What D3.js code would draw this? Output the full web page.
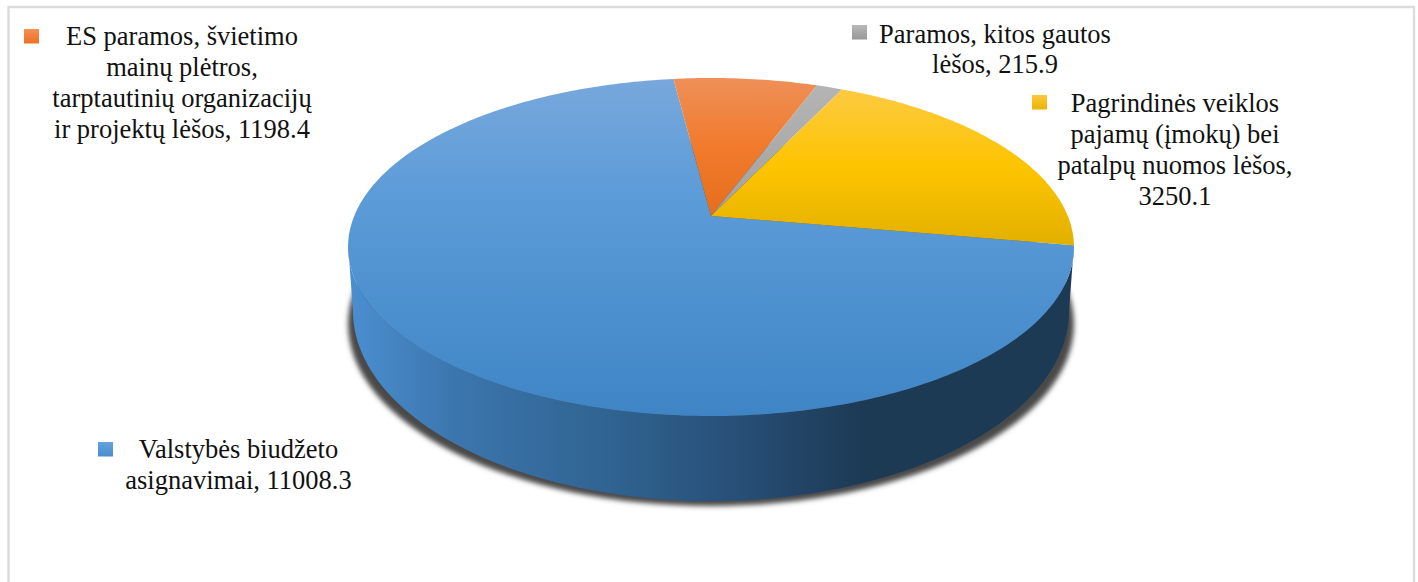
<!DOCTYPE html>
<html><head><meta charset="utf-8">
<script src="https://cdn.jsdelivr.net/npm/d3@7/dist/d3.min.js"></script>
<style>html,body{margin:0;padding:0;background:#fff;overflow:hidden}svg{display:block}
text{font-family:"Liberation Serif","Times New Roman",serif;font-size:26.5px;fill:#111}</style>
</head><body><svg id="c" width="1418" height="582"></svg>
<script>
const categories = ["Valstybės biudžeto asignavimai","ES paramos, švietimo mainų plėtros, tarptautinių organizacijų ir projektų lėšos","Paramos, kitos gautos lėšos","Pagrindinės veiklos pajamų (įmokų) bei patalpų nuomos lėšos"];
const values = [11008.3,1198.4,215.9,3250.1];
const labelLines = [["Valstybės biudžeto","asignavimai, 11008.3"],["ES paramos, švietimo","mainų plėtros,","tarptautinių organizacijų","ir projektų lėšos, 1198.4"],["Paramos, kitos gautos","lėšos, 215.9"],["Pagrindinės veiklos","pajamų (įmokų) bei","patalpų nuomos lėšos,","3250.1"]];
const topStops = [[["0","#78a8dc"],["0.36","#5b9bd8"],["1","#3f85c5"]],[["0","#ee9058"],["0.5","#f17a2c"],["1","#e56e1e"]],[["0","#b4b4b4"],["1","#a2a2a2"]],[["0","#fdca42"],["0.5","#fdc400"],["1","#e2b000"]]];
const keyStops = [["#64a2de","#4a8ccd"],["#f49058","#ee7020"],["#b8b8b8","#989898"],["#fdc940","#e9b400"]];
const keyPos = [[98,442],[24,29],[852,25],[1032,95]];
const labelPos = [[238.5,458,31],[182,45,31],[995,43,30],[1175,112,31]];
const gradSpan = [[78,416],[78,216],[85,216],[89,245]];

const svg = d3.select("#c"), defs = svg.append("defs");
// Perspective projection of the unit disc on the screen
const cx=711, K=356.8, A=123.7, B=216, C=-0.1834;
function project(t){const u=Math.sin(t),v=-Math.cos(t),w=1+C*v;return [cx+K*u/w,(A*v+B)/w];}
const bottomRim=t=>[cx+358*Math.sin(t),311-190*Math.cos(t)];
const rad=d=>d*Math.PI/180;
const line=d3.line();
const sweep=(a,b,n)=>d3.range(n+1).map(i=>a+(b-a)*i/n);

const blur=defs.append("filter").attr("id","sh").attr("x","-5%").attr("y","-5%").attr("width","110%").attr("height","110%");
blur.append("feGaussianBlur").attr("stdDeviation",2.6);

const sideG=defs.append("linearGradient").attr("id","side").attr("gradientUnits","userSpaceOnUse").attr("x1",353).attr("x2",1069).attr("y1",0).attr("y2",0);
[[0,"#4a8ecf"],[0.14,"#3c76ae"],[0.35,"#306492"],[0.52,"#28517a"],[0.71,"#1d3a55"],[1,"#1d3a55"]].forEach(s=>sideG.append("stop").attr("offset",s[0]).attr("stop-color",s[1]));

// frame
svg.append("path").attr("d","M8.5,582V7H1414V582").attr("fill","none").attr("stroke","#dcdcdc").attr("stroke-width",2.4);

// shadow
svg.append("ellipse").attr("cx",cx).attr("cy",324).attr("rx",363).attr("ry",182).attr("fill","#484848").attr("filter","url(#sh)");
// wall
const wall=[...sweep(rad(100),rad(260),80).map(project),...sweep(rad(270),rad(90),100).map(bottomRim)];
svg.append("path").attr("d",line(wall)+"Z").attr("fill","url(#side)");

// top slices
const pie=d3.pie().sort(null).value(d=>d).startAngle(rad(100)).endAngle(rad(460));
const arcs=pie(values);
arcs.forEach((a,i)=>{
  const g=defs.append("linearGradient").attr("id","t"+i).attr("gradientUnits","userSpaceOnUse").attr("x1",0).attr("x2",0).attr("y1",gradSpan[i][0]).attr("y2",gradSpan[i][1]);
  topStops[i].forEach(s=>g.append("stop").attr("offset",s[0]).attr("stop-color",s[1]));
});
svg.append("g").selectAll("path").data(arcs).join("path")
  .attr("d",a=>{
    const n=Math.max(4,Math.ceil((a.endAngle-a.startAngle)*60));
    return line([[cx,B],...sweep(a.startAngle,a.endAngle,n).map(project)])+"Z";
  })
  .attr("fill",(a,i)=>`url(#t${i})`);

// legend keys and labels
arcs.forEach((a,i)=>{
  const g=defs.append("linearGradient").attr("id","k"+i).attr("x1",0).attr("x2",0).attr("y1",0).attr("y2",1);
  g.append("stop").attr("offset",0).attr("stop-color",keyStops[i][0]);
  g.append("stop").attr("offset",1).attr("stop-color",keyStops[i][1]);
  svg.append("rect").attr("x",keyPos[i][0]).attr("y",keyPos[i][1]).attr("width",15).attr("height",14.5).attr("fill",`url(#k${i})`);
  const t=svg.append("text").attr("text-anchor","middle");
  labelLines[i].forEach((l,j)=>t.append("tspan").attr("x",labelPos[i][0]).attr("y",labelPos[i][1]+j*labelPos[i][2]).text(l));
});
</script></body></html>
